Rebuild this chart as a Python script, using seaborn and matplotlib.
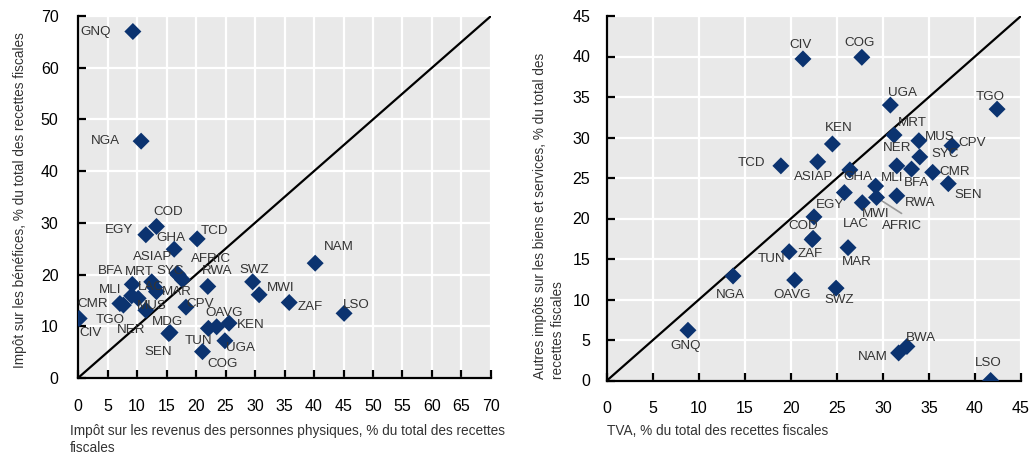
import numpy as np
import pandas as pd
import seaborn as sns
import matplotlib.pyplot as plt
from matplotlib import font_manager

# ---- Left panel: personal income tax vs corporate income tax (% of total tax revenue)
left_codes = ["GNQ", "NGA", "COD", "EGY", "GHA", "TCD", "ASIAP", "SYC", "AFRIC", "RWA",
              "BFA", "MRT", "LAC", "MAR", "MLI", "CMR", "TGO", "MUS", "NER", "CPV",
              "CIV", "MDG", "SEN", "OAVG", "TUN", "KEN", "UGA", "COG", "SWZ", "MWI",
              "ZAF", "NAM", "LSO"]
left_pit = [9.3, 10.7, 13.3, 11.5, 16.3, 20.2, 16.8, 17.0, 17.7, 22.0,
            9.2, 12.5, 13.0, 13.3, 9.1, 7.1, 7.7, 10.2, 11.5, 18.3,
            0.2, 15.6, 15.4, 23.5, 22.1, 25.6, 24.9, 21.1, 29.6, 30.7,
            35.8, 40.2, 45.1]
left_cit = [67.0, 45.8, 29.3, 27.7, 24.9, 26.9, 20.2, 19.9, 19.0, 17.7,
            18.1, 18.6, 17.5, 16.7, 15.9, 14.4, 14.1, 15.4, 13.1, 13.7,
            11.5, 8.8, 8.6, 9.9, 9.6, 10.6, 7.2, 5.1, 18.6, 16.1,
            14.6, 22.2, 12.5]

# ---- Right panel: VAT vs other taxes on goods and services (% of total tax revenue)
right_codes = ["CIV", "COG", "UGA", "TGO", "KEN", "MRT", "MUS", "CPV", "NER", "SYC",
               "ASIAP", "TCD", "BFA", "CMR", "GHA", "MLI", "SEN", "RWA", "AFRIC", "MWI",
               "LAC", "EGY", "COD", "ZAF", "TUN", "MAR", "NGA", "OAVG", "SWZ", "GNQ",
               "NAM", "BWA", "LSO"]
right_vat = [21.3, 27.7, 30.8, 42.4, 24.5, 31.2, 33.9, 37.5, 31.5, 34.0,
             22.9, 18.9, 33.1, 35.4, 26.4, 29.2, 37.1, 31.5, 29.3, 25.8,
             27.75, 22.5, 22.4, 22.3, 19.8, 26.2, 13.7, 20.4, 24.9, 8.8,
             31.7, 32.6, 41.7]
right_other = [39.7, 39.9, 34.0, 33.5, 29.2, 30.3, 29.6, 29.0, 26.5, 27.6,
               27.0, 26.5, 26.1, 25.7, 26.0, 24.0, 24.3, 22.8, 22.6, 23.2,
               21.95, 20.2, 17.55, 17.4, 15.9, 16.4, 12.9, 12.4, 11.4, 6.2,
               3.4, 4.2, 0.0]

# Label placement (pixel offsets from each marker: right, down)
left_offsets = {
    "GNQ": (-37, 0), "NGA": (-36, 0), "COD": (12, -14), "EGY": (-27, -5),
    "GHA": (-3, -11), "TCD": (17, -8), "ASIAP": (-24, -17), "SYC": (-8, -4),
    "AFRIC": (29, -21), "RWA": (9, -15), "BFA": (-22, -13), "MRT": (-12, -10),
    "LAC": (-4, -1), "MAR": (20, 0), "MLI": (-22, -6), "CMR": (-27, 0),
    "TGO": (-13, 15), "MUS": (14, 8), "NER": (-15, 20), "CPV": (14, -3),
    "CIV": (11, 14), "MDG": (-3, -10), "SEN": (-11, 18), "OAVG": (7, -14),
    "TUN": (-10, 13), "KEN": (22, 2), "UGA": (16, 7), "COG": (20, 12),
    "SWZ": (2, -12), "MWI": (22, -7), "ZAF": (21, 5), "NAM": (24, -16),
    "LSO": (12, -8),
}
right_offsets = {
    "CIV": (-2, -14), "COG": (-2, -14), "UGA": (12, -12), "TGO": (-7, -12),
    "KEN": (6, -16), "MRT": (18, -12), "MUS": (21, -4), "CPV": (20, -3),
    "NER": (0, -18), "SYC": (25, -3), "ASIAP": (-4, 15), "TCD": (-29, -3),
    "BFA": (5, 14), "CMR": (22, 0), "GHA": (8, 7), "MLI": (16, -8),
    "SEN": (20, 11), "RWA": (23, 7), "AFRIC": (25, 29), "MWI": (31, 21),
    "LAC": (-6, 21), "EGY": (16, -12), "COD": (-10, -12), "ZAF": (-2, 14),
    "TUN": (-18, 7), "MAR": (9, 14), "NGA": (-3, 19), "OAVG": (-3, 15),
    "SWZ": (3, 12), "GNQ": (-2, 16), "NAM": (-26, 4), "BWA": (14, -8),
    "LSO": (-2, -17),
}

left_df = pd.DataFrame({"code": left_codes, "pit": left_pit, "cit": left_cit})
right_df = pd.DataFrame({"code": right_codes, "vat": right_vat, "other": right_other})

sns.set_theme(style="darkgrid")
avail = {f.name for f in font_manager.fontManager.ttflist}
narrow = "Liberation Sans Narrow" in avail
base_font = "Liberation Sans Narrow" if narrow else "Liberation Sans"
plt.rcParams["font.family"] = [base_font, "DejaVu Sans"]
plt.rcParams.update({
    "axes.facecolor": "#e9e9e9",
    "grid.color": "white",
    "grid.linewidth": 1.6,
    "axes.edgecolor": "black",
})

# Sizes tuned for the available face
TICK_FS = 12.5 if narrow else 11.5
POINT_FS = 11 if narrow else 9.6
TITLE_FS = 11.5 if narrow else 9.8

MARKER_COLOR = "#0b3370"
TEXT_COLOR = "#333333"

fig = plt.figure(figsize=(10.30, 4.58), dpi=100)
ax1 = fig.add_axes([78 / 1030, 80 / 458, 413 / 1030, 362 / 458])
ax2 = fig.add_axes([607 / 1030, 77.5 / 458, 414 / 1030, 364.5 / 458])


def style_axes(ax, xmax, ymax, xstep, ystep, ypad):
    ax.set_xlim(0, xmax)
    ax.set_ylim(0, ymax)
    ax.set_xticks(np.arange(0, xmax + 0.1, xstep))
    ax.set_yticks(np.arange(0, ymax + 0.1, ystep))
    for side in ("top", "right"):
        ax.spines[side].set_visible(False)
    for side in ("left", "bottom"):
        ax.spines[side].set_visible(True)
        ax.spines[side].set_linewidth(1.6)
        ax.spines[side].set_color("black")
    ax.tick_params(axis="both", direction="in", length=6, width=1.6,
                   color="black", labelsize=TICK_FS, labelcolor="black",
                   left=True, bottom=True)
    ax.tick_params(axis="x", pad=15)
    ax.tick_params(axis="y", pad=ypad)
    ax.set_xlabel("")
    ax.set_ylabel("")
    ax.set_axisbelow(True)


def diagonal(ax, upper):
    ax.plot([0, upper], [0, upper], color="black", lw=1.6, zorder=2)


def label_points(ax, codes, xs, ys, offsets):
    for c, x, y in zip(codes, xs, ys):
        dx, dy = offsets[c]
        ax.annotate(c, (x, y), xytext=(dx, -dy), textcoords="offset pixels",
                    ha="center", va="center", fontsize=POINT_FS, color=TEXT_COLOR,
                    zorder=4)


# Left panel
diagonal(ax1, 70)
sns.scatterplot(data=left_df, x="pit", y="cit", ax=ax1, marker="D", s=75,
                color=MARKER_COLOR, edgecolor="none", zorder=3, legend=False)
style_axes(ax1, 70, 70, 5, 10, ypad=14)
label_points(ax1, left_codes, left_pit, left_cit, left_offsets)

# Right panel
diagonal(ax2, 45)
sns.scatterplot(data=right_df, x="vat", y="other", ax=ax2, marker="D", s=75,
                color=MARKER_COLOR, edgecolor="none", zorder=3, legend=False)
style_axes(ax2, 45, 45, 5, 5, ypad=12)
label_points(ax2, right_codes, right_vat, right_other, right_offsets)

# Leader line for the AFRIC label on the right panel
i = right_codes.index("AFRIC")
ax2.annotate("", xy=(right_vat[i], right_other[i]), xytext=(25, -16),
             textcoords="offset pixels",
             arrowprops=dict(arrowstyle="-", color="#9a9a9a", lw=1.2,
                             shrinkA=0, shrinkB=0), zorder=2)

# Axis titles
fig.text(70 / 1030, 1 - 424 / 458,
         "Impôt sur les revenus des personnes physiques, % du total des recettes\nfiscales",
         ha="left", va="top", fontsize=TITLE_FS, color=TEXT_COLOR, linespacing=1.3)
fig.text(607 / 1030, 1 - 424 / 458, "TVA, % du total des recettes fiscales",
         ha="left", va="top", fontsize=TITLE_FS, color=TEXT_COLOR)
fig.text(20 / 1030, 1 - 200 / 458,
         "Impôt sur les bénéfices, % du total des recettes fiscales",
         rotation=90, ha="center", va="center", fontsize=TITLE_FS, color=TEXT_COLOR)
fig.text(549 / 1030, 1 - 379 / 458,
         "Autres impôts sur les biens et services, % du total des\nrecettes fiscales",
         rotation=90, ha="center", va="bottom", multialignment="left",
         fontsize=TITLE_FS, color=TEXT_COLOR, linespacing=1.3)

fig.savefig("out.png", dpi=100)
